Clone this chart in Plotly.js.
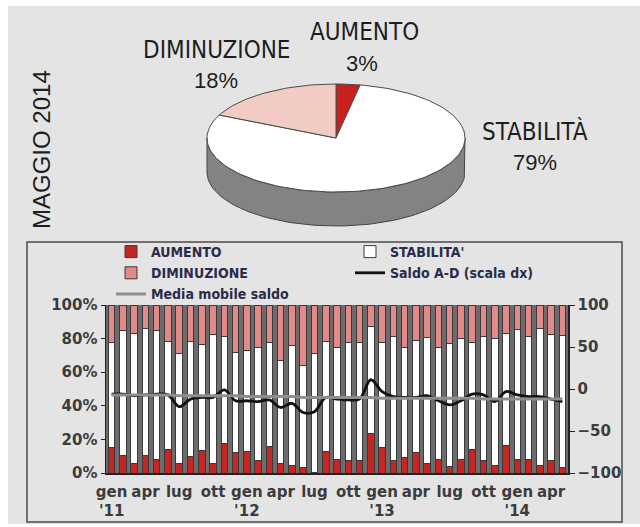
<!DOCTYPE html>
<html>
<head>
<meta charset="utf-8">
<script src="https://cdn.plot.ly/plotly-3.0.1.min.js"></script>
<style>
  html, body { margin: 0; padding: 0; background: #ffffff; }
  #chart { position: absolute; left: 8px; top: 6px; width: 632px; height: 518px; }
</style>
</head>
<body>
<div id="chart"></div>
<script>
// ---------- DATA ----------
const mesi = ["gen11","feb11","mar11","apr11","mag11","giu11","lug11","ago11","set11","ott11","nov11","dic11",
              "gen12","feb12","mar12","apr12","mag12","giu12","lug12","ago12","set12","ott12","nov12","dic12",
              "gen13","feb13","mar13","apr13","mag13","giu13","lug13","ago13","set13","ott13","nov13","dic13",
              "gen14","feb14","mar14","apr14","mag14"];
const aumento = [15,10.7,5.8,10.7,8.1,14,5.8,9.7,13.3,5.8,17.7,12.3,
                 12.7,7.7,16,5.4,4.4,3.2,0.3,12.7,8.1,7.3,7.7,23.6,
                 15,7.3,9.3,12.3,5.8,8.1,3.8,8.1,13.7,7.3,4.4,16.3,
                 8.1,8.1,4.2,7.3,3];
const stabilita = [62.6,74.3,77.2,75.3,76.9,64,65.2,68.3,63.3,76.9,63.3,59.5,
                   60.3,67.3,61.8,61.6,71.6,60.8,70.7,65.3,66.9,70.3,69.9,63.9,
                   62.6,74.2,65.3,66.7,74.8,66.9,73,71.9,63.9,73.7,75.6,66.7,
                   77.4,72.9,81.8,75.2,79];
const diminuzione = [22.4,15,17,14,15,22,29,22,23.4,17.3,19,28.2,
                     27,25,22.2,33,24,36,29,22,25,22.4,22.4,12.5,
                     22.4,18.5,25.4,21,19.4,25,23.2,20,22.4,19,20,17,
                     14.5,19,14,17.5,18];
const saldo = [-6,-6,-8,-7,-6,-7,-21,-12,-10,-10,-1,-14,
               -14,-15,-13,-22,-17,-28,-27,-10,-12,-13,-12,11,
               -3,-9,-10,-10,-8,-14,-19,-14,-6,-7,-15,-3,
               -7,-9,-9,-12,-15];
const mediaMobile = [-7,-7,-7,-7,-7,-7,-8,-8,-8,-8,-8,-8,
                     -9,-9,-9,-9,-9,-10,-10,-10,-10,-10,-10,-10,
                     -11,-11,-11,-11,-11,-11,-11,-11,-11,-12,-12,-12,
                     -12,-12,-12,-12,-12];
const tickVals = ["gen11","apr11","lug11","ott11","gen12","apr12","lug12","ott12","gen13","apr13","lug13","ott13","gen14","apr14"];
const tickText = ["gen<br>'11","apr","lug","ott","gen<br>'12","apr","lug","ott","gen<br>'13","apr","lug","ott","gen<br>'14","apr"];

const pieLabels = ["AUMENTO","STABILITÀ","DIMINUZIONE"];
const pieValues = [3,79,18];

// ---------- STYLE ----------
const RED = "#c42622", PINK = "#e38a89", WHITE = "#ffffff";
const PIE_COLORS = ["#c8201c", "#ffffff", "#f2cbc4"];
const BG = "#e4e4e4";
const W = 632, H = 518;      // div size; page offset (8,6)
const OX = 8, OY = 6;
const px = v => (v - OX) / W;          // page x -> paper
const py = v => 1 - (v - OY) / H;      // page y -> paper
const PLOT = {l:106, r:568, t:305, b:473};

// pie geometry in page pixels (x2 = page x, y2 = -page y)
const CX = 336, CY = 138, RA = 129, RB = 54, DEPTH = 34;
function ell(tDeg, dy) {
  const t = tDeg * Math.PI / 180;
  return [CX + RA * Math.cos(t), -(CY - RB * Math.sin(t) + (dy || 0))];
}

const traces = [];

// pie side (visible lower half)
(function () {
  const xs = [], ys = [];
  for (let t = 180; t <= 360; t += 2) { const p = ell(t, 0); xs.push(p[0]); ys.push(p[1]); }
  for (let t = 360; t >= 180; t -= 2) { const p = ell(t, DEPTH); xs.push(p[0]); ys.push(p[1]); }
  xs.push(xs[0]); ys.push(ys[0]);
  traces.push({type:"scatter", mode:"lines", x:xs, y:ys, xaxis:"x2", yaxis:"y2",
    fill:"toself", fillcolor:"#838383", line:{color:"#444", width:1},
    showlegend:false, hoverinfo:"skip"});
})();

// pie slices, clockwise from 12 o'clock
(function () {
  const tot = pieValues.reduce((s, v) => s + v, 0);
  let start = 90;
  pieValues.forEach((v, i) => {
    const sweep = v / tot * 360;
    const xs = [CX], ys = [-CY];
    const n = Math.max(4, Math.ceil(sweep / 2));
    for (let k = 0; k <= n; k++) {
      const p = ell(start - sweep * k / n, 0); xs.push(p[0]); ys.push(p[1]);
    }
    xs.push(CX); ys.push(-CY);
    traces.push({type:"scatter", mode:"lines", x:xs, y:ys, xaxis:"x2", yaxis:"y2",
      fill:"toself", fillcolor:PIE_COLORS[i], line:{color:"#4a4a4a", width:1},
      name:pieLabels[i], showlegend:false, hoverinfo:"skip"});
    start -= sweep;
  });
})();

// bars (stack order = trace order)
const barLine = {color:"#3a3a3a", width:1};
traces.push({type:"bar", name:"AUMENTO", x:mesi, y:aumento, marker:{color:RED, line:barLine}});
traces.push({type:"bar", name:"STABILITA'", x:mesi, y:stabilita, marker:{color:WHITE, line:barLine}});
traces.push({type:"bar", name:"DIMINUZIONE", x:mesi, y:diminuzione, marker:{color:PINK, line:barLine}});
traces.push({type:"scatter", mode:"lines", name:"Saldo A-D (scala dx)", x:mesi, y:saldo, yaxis:"y3",
  line:{color:"#111", width:2.8, shape:"spline", smoothing:1}});
traces.push({type:"scatter", mode:"lines", name:"Media mobile saldo", x:mesi, y:mediaMobile, yaxis:"y3",
  line:{color:"#8e8e8e", width:3}});

const tickFont = {family:"DejaVu Sans, Liberation Sans, Arial", size:15, color:"#3c3c3c", weight:700};
const labelFont = {family:"DejaVu Sans Condensed, Liberation Sans Narrow, sans-serif", size:24, color:"#1e1e1e"};
const pctFont = {family:"Liberation Sans, Arial, sans-serif", size:22, color:"#1e1e1e"};

const layout = {
  width: W, height: H,
  margin: {l:0, r:0, t:0, b:0},
  paper_bgcolor: BG, plot_bgcolor: "rgba(0,0,0,0)",
  barmode: "stack", bargap: 0.42,
  showlegend: true,
  legend: {
    orientation: "h", xref: "paper", yref: "paper",
    x: px(111), y: py(236), xanchor: "left", yanchor: "top",
    entrywidth: 194, entrywidthmode: "pixels",
    traceorder: "normal",
    font: {family:"DejaVu Sans Condensed, Liberation Sans Narrow, sans-serif", size:14, color:"#2b2b4a", weight:700},
    bgcolor: "rgba(0,0,0,0)", itemwidth: 30
  },
  xaxis: {
    domain: [px(PLOT.l), px(PLOT.r)], type: "category", range: [-0.5, mesi.length - 0.5],
    tickmode: "array", tickvals: tickVals, ticktext: tickText, tickangle: 0,
    ticks: "", tickfont: tickFont, showgrid: false, zeroline: false,
    showline: true, linecolor: "#222", linewidth: 1.5, ticklabelstandoff: 4,
    anchor: "y"
  },
  yaxis: {
    domain: [py(PLOT.b), py(PLOT.t)], range: [0, 100], dtick: 20, ticksuffix: "%",
    ticks: "outside", ticklen: 4, tickcolor: "#222", tickfont: tickFont,
    showgrid: false, zeroline: false, showline: true, linecolor: "#222", linewidth: 1.5,
    anchor: "x"
  },
  yaxis3: {
    overlaying: "y", side: "right", range: [-100, 100], dtick: 50,
    ticks: "outside", ticklen: 5, tickcolor: "#222", tickfont: tickFont,
    showgrid: false, zeroline: false, showline: true, linecolor: "#222", linewidth: 1.5,
    anchor: "x"
  },
  xaxis2: {domain: [0, 1], range: [OX, OX + W], visible: false, anchor: "y2", fixedrange: true},
  yaxis2: {domain: [0, 1], range: [-(OY + H), -OY], visible: false, anchor: "x2", fixedrange: true},
  shapes: [
    {type:"rect", xref:"paper", yref:"paper", x0:px(PLOT.l), x1:px(PLOT.r), y0:py(PLOT.b), y1:py(PLOT.t),
     fillcolor:"#6c6c6c", line:{width:0}, layer:"below"},
    {type:"rect", xref:"paper", yref:"paper", x0:px(27), x1:px(622), y0:py(522), y1:py(242),
     fillcolor:"rgba(0,0,0,0)", line:{color:"#4a4a4a", width:1.5}, layer:"below"}
  ],
  annotations: [
    {xref:"x2", yref:"y2", x:41, y:-150, text:"MAGGIO 2014", textangle:-90, showarrow:false,
     font:{family:"Liberation Sans, Arial, sans-serif", size:24, color:"#1e1e1e"}},
    {xref:"x2", yref:"y2", x:364, y:-32, text:"AUMENTO", showarrow:false, font:labelFont},
    {xref:"x2", yref:"y2", x:362, y:-63, text:"3%", showarrow:false, font:pctFont},
    {xref:"x2", yref:"y2", x:216, y:-50, text:"DIMINUZIONE", showarrow:false, font:labelFont},
    {xref:"x2", yref:"y2", x:216, y:-80, text:"18%", showarrow:false, font:pctFont},
    {xref:"x2", yref:"y2", x:535, y:-131, text:"STABILITÀ", showarrow:false, font:labelFont},
    {xref:"x2", yref:"y2", x:535, y:-162, text:"79%", showarrow:false, font:pctFont}
  ]
};

Plotly.newPlot("chart", traces, layout, {staticPlot: true, displayModeBar: false});
</script>
</body>
</html>
